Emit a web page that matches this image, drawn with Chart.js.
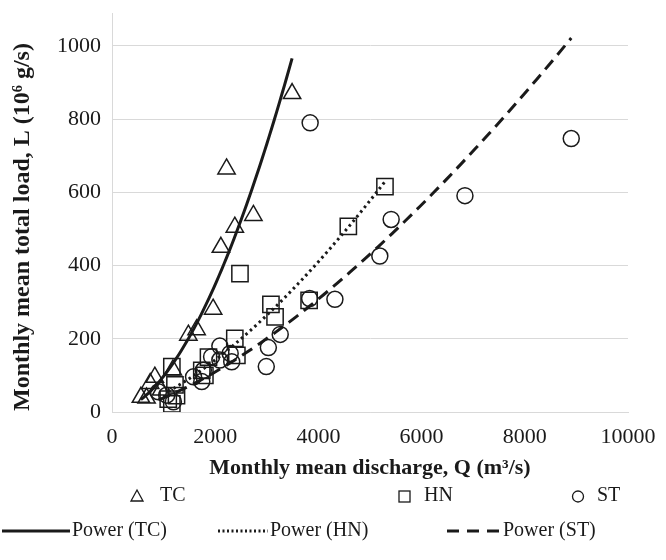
<!DOCTYPE html>
<html>
<head>
<meta charset="utf-8">
<script src="https://cdn.jsdelivr.net/npm/chart.js@4"></script>
<style>
  html, body { margin: 0; padding: 0; background: #fff; }
  #wrap { width: 666px; height: 560px; }
</style>
</head>
<body>
<div id="wrap"><canvas id="loadChart"></canvas></div>
<script>
// monthly mean discharge (m3/s) and total load (10^6 g/s) per station
const tcQ = [3490, 2220, 2740, 2380, 2110, 1960, 1640, 1480, 1180, 950, 830, 740, 670, 560];
const tcL = [870, 664, 537, 505, 450, 281, 225, 210, 115, 60, 95, 78, 38, 40];

const hnQ = [5290, 4580, 2480, 3080, 3820, 3160, 2380, 2420, 1870, 1800, 1740, 1160, 1220, 1160, 1250, 1090];
const hnL = [616, 507, 378, 294, 305, 260, 201, 155, 150, 100, 114, 124, 74, 22, 45, 35];

const stQ = [8900, 6840, 5410, 5190, 4320, 3840, 3830, 3260, 3030, 2990, 2090, 2320, 2290, 1930, 2090, 1770, 1580, 1740, 1190, 1060, 900];
const stL = [747, 591, 526, 426, 308, 790, 310, 212, 176, 124, 180, 137, 160, 151, 142, 114, 96, 83, 28, 46, 55];

// power trendlines L = a * Q^b
const fitNames = ['Power (TC)', 'Power (HN)', 'Power (ST)'];
const fitA = [3.098e-4, 1.265e-3, 1.256e-3];
const fitB = [1.833, 1.53, 1.4965];

const xTicks = [0, 2000, 4000, 6000, 8000, 10000];
const yTicks = [0, 200, 400, 600, 800, 1000];

const ink = '#1a1a1a';
const grid = '#d9d9d9';
const serif = '"Liberation Serif", "Times New Roman", serif';

function pairs(xs, ys) {
    return xs.map((x, i) => ({ x: x, y: ys[i] }));
}

function trend(xs, k) {
    const lo = Math.min(...xs), hi = Math.max(...xs);
    const pts = [];
    for (let i = 0; i <= 60; i++) {
        const x = lo + (hi - lo) * i / 60;
        pts.push({ x: x, y: fitA[k] * Math.pow(x, fitB[k]) });
    }
    return pts;
}

// y title and legend drawn by hand so they sit where the original has them
const extras = {
    id: 'extras',
    afterDraw(chart) {
        const ctx = chart.ctx;
        ctx.save();
        ctx.fillStyle = ink;
        ctx.strokeStyle = ink;

        ctx.save();
        ctx.translate(23, 227);
        ctx.rotate(-Math.PI / 2);
        ctx.font = 'bold 24px ' + serif;
        ctx.textAlign = 'center';
        ctx.textBaseline = 'middle';
        ctx.fillText('Monthly mean total load, L (10⁶ g/s)', 0, 0);
        ctx.restore();

        ctx.font = '20px ' + serif;
        ctx.textBaseline = 'middle';
        ctx.lineWidth = 1.3;

        const r1 = 496;
        // triangle
        ctx.beginPath();
        ctx.moveTo(137, r1 - 6);
        ctx.lineTo(143, r1 + 5);
        ctx.lineTo(131, r1 + 5);
        ctx.closePath();
        ctx.stroke();
        ctx.fillText('TC', 160, r1);
        // square
        ctx.strokeRect(399, r1 - 5, 11, 11);
        ctx.fillText('HN', 424, r1);
        // circle
        ctx.beginPath();
        ctx.arc(578, r1 + 0.5, 5.5, 0, Math.PI * 2);
        ctx.stroke();
        ctx.fillText('ST', 597, r1);

        const r2 = 531;
        const samples = [[2, 70, []], [218, 268, [2, 2.5]], [447, 500, [12, 8]]];
        const textX = [72, 270, 503];
        samples.forEach((s, i) => {
            ctx.beginPath();
            ctx.lineWidth = 3;
            ctx.setLineDash(s[2]);
            ctx.moveTo(s[0], r2);
            ctx.lineTo(s[1], r2);
            ctx.stroke();
            ctx.setLineDash([]);
            ctx.fillText(fitNames[i], textX[i], r2);
        });
        ctx.restore();
    }
};

const ctx = document.getElementById('loadChart').getContext('2d');
const loadChart = new Chart(ctx, {
    type: 'scatter',
    data: {
        datasets: [
            { label: 'TC', data: pairs(tcQ, tcL), pointStyle: 'triangle', pointRadius: 10,
              borderColor: ink, backgroundColor: 'rgba(0,0,0,0)', borderWidth: 1.5 },
            { label: 'HN', data: pairs(hnQ, hnL), pointStyle: 'rect', pointRadius: 11.5,
              borderColor: ink, backgroundColor: 'rgba(0,0,0,0)', borderWidth: 1.5 },
            { label: 'ST', data: pairs(stQ, stL), pointStyle: 'circle', pointRadius: 8,
              borderColor: ink, backgroundColor: 'rgba(0,0,0,0)', borderWidth: 1.5 },
            { label: fitNames[0], type: 'line', data: trend(tcQ, 0), showLine: true, pointRadius: 0,
              borderColor: ink, borderWidth: 3, fill: false },
            { label: fitNames[1], type: 'line', data: trend(hnQ, 1), showLine: true, pointRadius: 0,
              borderColor: ink, borderWidth: 3, borderDash: [2.5, 3.5], fill: false },
            { label: fitNames[2], type: 'line', data: trend(stQ, 2), showLine: true, pointRadius: 0,
              borderColor: ink, borderWidth: 3, borderDash: [12, 7], fill: false }
        ]
    },
    options: {
        responsive: true,
        maintainAspectRatio: false,
        animation: false,
        layout: { padding: { top: 4, right: 38, bottom: 78, left: 0 } },
        plugins: {
            legend: { display: false },
            tooltip: { enabled: false }
        },
        scales: {
            x: {
                type: 'linear',
                min: 0,
                max: 10000,
                afterBuildTicks: s => { s.ticks = xTicks.map(v => ({ value: v })); },
                afterFit: s => { s.height = 70; s.paddingLeft = 0; s.paddingRight = 0; },
                grid: { display: false, drawTicks: false },
                border: { color: grid },
                ticks: { color: ink, font: { family: serif, size: 22 }, padding: 12, maxRotation: 0,
                         callback: v => String(v) },
                title: {
                    display: true,
                    text: 'Monthly mean discharge, Q (m³/s)',
                    color: ink,
                    font: { family: serif, size: 22, weight: 'bold' },
                    padding: { top: 0, bottom: 0 }
                }
            },
            y: {
                type: 'linear',
                min: 0,
                max: 1090,
                afterBuildTicks: s => { s.ticks = yTicks.map(v => ({ value: v })); },
                afterFit: s => { s.width = 112; s.paddingTop = 0; s.paddingBottom = 0; },
                grid: { color: grid, lineWidth: 1, drawTicks: false },
                border: { color: grid },
                ticks: { color: ink, font: { family: serif, size: 22 }, padding: 11,
                         callback: v => String(v) },
                title: { display: false }
            }
        }
    },
    plugins: [extras]
});
</script>
</body>
</html>
